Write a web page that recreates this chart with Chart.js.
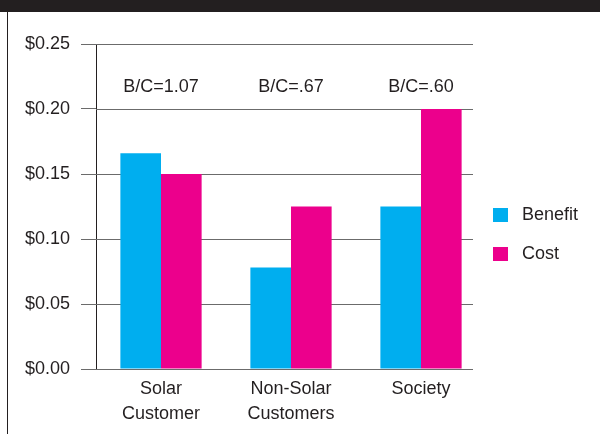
<!DOCTYPE html>
<html>
<head>
<meta charset="utf-8">
<script src="https://cdn.jsdelivr.net/npm/chart.js@4"></script>
<style>
  html, body { margin: 0; padding: 0; background: #fff; }
  #wrap { position: relative; width: 600px; height: 434px; overflow: hidden; }
  #topbar { position: absolute; left: 0; top: 0; width: 600px; height: 12px; background: #231f20; }
  #leftline { position: absolute; left: 7px; top: 12px; width: 1px; height: 422px; background: #231f20; }
  canvas { position: absolute; left: 0; top: 0; }
  .legend { position: absolute; left: 493px; font: 18px 'Liberation Sans Narrow', 'Liberation Sans', Arial, sans-serif; color: #231f20; }
  .legend span.box { position: absolute; left: 0; width: 15px; height: 14px; }
  .legend span.txt { position: absolute; left: 29px; top: -4px; white-space: nowrap; }
</style>
</head>
<body>
<div id="wrap">
  <canvas id="chart" width="600" height="434"></canvas>
  <div id="topbar"></div>
  <div id="leftline"></div>
  <div id="legend"></div>
</div>
<script>
// Données
const categories = [["Solar", "Customer"], ["Non-Solar", "Customers"], ["Society"]];
const benefit = [0.166, 0.078, 0.125];
const cost = [0.15, 0.125, 0.2];
const bcLabels = ["B/C=1.07", "B/C=.67", "B/C=.60"];
const bcLabelLevel = 0.217;
const seriesNames = ["Benefit", "Cost"];
const seriesColors = ["#00aeef", "#ec008c"];

const fontFamily = "'Liberation Sans Narrow', 'Liberation Sans', Arial, sans-serif";
const inkColor = "#231f20";
const gridEnd = 473;

// Lignes horizontales coupées avant la fin de la zone + textes B/C
const gridPlugin = {
  id: "shortGrid",
  beforeDatasetsDraw(chart) {
    const { ctx, chartArea, scales } = chart;
    ctx.save();
    ctx.strokeStyle = "#6b6b6b";
    ctx.lineWidth = 1;
    scales.y.ticks.forEach((t) => {
      const y = Math.round(scales.y.getPixelForValue(t.value)) + 0.5;
      ctx.beginPath();
      ctx.moveTo(chartArea.left, y);
      ctx.lineTo(gridEnd, y);
      ctx.stroke();
    });
    ctx.restore();
  },
  afterDatasetsDraw(chart) {
    const { ctx, scales } = chart;
    ctx.save();
    ctx.fillStyle = inkColor;
    ctx.font = "18px " + fontFamily;
    ctx.textAlign = "center";
    ctx.textBaseline = "middle";
    bcLabels.forEach((lbl, i) => {
      ctx.fillText(lbl, scales.x.getPixelForValue(i), scales.y.getPixelForValue(bcLabelLevel));
    });
    ctx.restore();
  },
};

new Chart(document.getElementById("chart").getContext("2d"), {
  type: "bar",
  data: {
    labels: categories,
    datasets: [
      { label: seriesNames[0], data: benefit, backgroundColor: seriesColors[0] },
      { label: seriesNames[1], data: cost, backgroundColor: seriesColors[1] },
    ],
  },
  options: {
    responsive: false,
    animation: false,
    layout: { padding: { top: 44, right: 114, left: 0, bottom: 0 } },
    datasets: { bar: { categoryPercentage: 0.625, barPercentage: 1 } },
    plugins: { legend: { display: false }, tooltip: { enabled: false } },
    scales: {
      x: {
        grid: { display: false },
        border: { display: false },
        ticks: {
          color: inkColor,
          padding: 0,
          maxRotation: 0,
          font: { family: fontFamily, size: 18, lineHeight: "25px" },
        },
        afterFit: (s) => { s.height = 65; },
      },
      y: {
        min: 0,
        max: 0.25,
        grid: { display: true, drawOnChartArea: false, tickLength: 15, color: "#6b6b6b" },
        border: { display: true, color: inkColor },
        ticks: {
          stepSize: 0.05,
          padding: 11,
          color: inkColor,
          font: { family: fontFamily, size: 18 },
          callback: (v) => "$" + Number(v).toFixed(2),
        },
        afterFit: (s) => { s.width = 96; },
      },
    },
  },
  plugins: [gridPlugin],
});

// Légende
document.getElementById("legend").innerHTML = seriesNames
  .map((n, i) => `
    <div class="legend" style="top:${208 + i * 39}px">
      <span class="box" style="background:${seriesColors[i]}"></span>
      <span class="txt">${n}</span>
    </div>`)
  .join("");
</script>
</body>
</html>
